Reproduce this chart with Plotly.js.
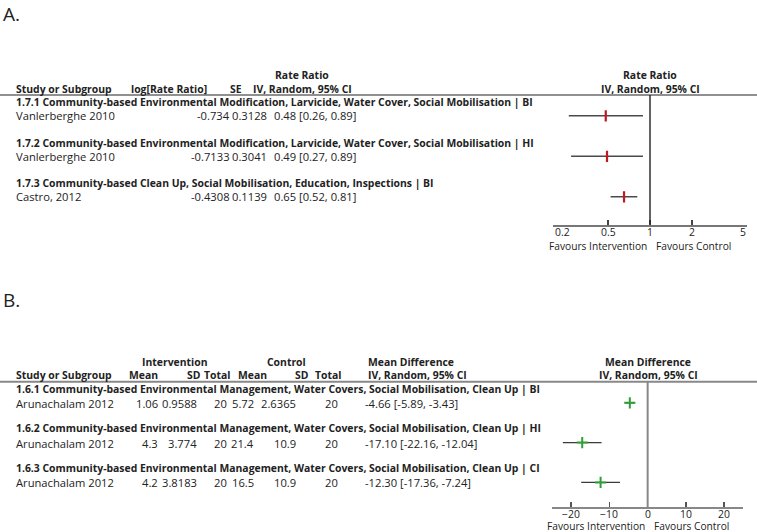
<!DOCTYPE html>
<html>
<head>
<meta charset="utf-8">
<script src="https://cdn.plot.ly/plotly-3.0.1.min.js"></script>
<style>html,body{margin:0;padding:0;background:#fff;}#chart{width:757px;height:532px;}</style>
</head>
<body>
<div id="chart"></div>
<script>
// ---------- Data: panel A (Rate Ratio) ----------
const subgroupsA = [
  "1.7.1 Community-based Environmental Modification, Larvicide, Water Cover, Social Mobilisation | BI",
  "1.7.2 Community-based Environmental Modification, Larvicide, Water Cover, Social Mobilisation | HI",
  "1.7.3 Community-based Clean Up, Social Mobilisation, Education, Inspections | BI"
];
const studiesA = ["Vanlerberghe 2010", "Vanlerberghe 2010", "Castro, 2012"];
const logRateRatio = [-0.734, -0.7133, -0.4308];
const seA = [0.3128, 0.3041, 0.1139];
const rateRatio = [0.48, 0.49, 0.65];
const rrLower = [0.26, 0.27, 0.52];
const rrUpper = [0.89, 0.89, 0.81];
const ticksA = [0.2, 0.5, 1, 2, 5];
const tickLabelsA = ["0.2", "0.5", "1", "2", "5"];

// ---------- Data: panel B (Mean Difference) ----------
const subgroupsB = [
  "1.6.1 Community-based Environmental Management, Water Covers, Social Mobilisation, Clean Up | BI",
  "1.6.2 Community-based Environmental Management, Water Covers, Social Mobilisation, Clean Up | HI",
  "1.6.3 Community-based Environmental Management, Water Covers, Social Mobilisation, Clean Up | CI"
];
const studiesB = ["Arunachalam 2012", "Arunachalam 2012", "Arunachalam 2012"];
const intMean = [1.06, 4.3, 4.2];
const intSD = [0.9588, 3.774, 3.8183];
const intTotal = [20, 20, 20];
const ctlMean = [5.72, 21.4, 16.5];
const ctlSD = [2.6365, 10.9, 10.9];
const ctlTotal = [20, 20, 20];
const meanDiff = [-4.66, -17.10, -12.30];
const mdLower = [-5.89, -22.16, -17.36];
const mdUpper = [-3.43, -12.04, -7.24];
const ticksB = [-20, -10, 0, 10, 20];
const tickLabelsB = ["\u221220", "\u221210", "0", "10", "20"];

// ---------- Layout helpers ----------
const W = 757, H = 532;
const FONT = "'Open Sans', 'DejaVu Sans', sans-serif";
const TXT = "#222";
const REG = 11.2, BOLD = 10.4, SMALL = 10.2, TICK = 10.4;
const px = x => x / W;
const py = y => 1 - y / H;
const ci = (m, l, u) => m.toFixed(2) + " [" + l.toFixed(2) + ", " + u.toFixed(2) + "]";

const annotations = [];
function pText(text, x, y, anchor, bold, size) {
  annotations.push({
    text: bold ? "<b>" + text + "</b>" : text,
    xref: "paper", yref: "paper", x: px(x), y: py(y),
    xanchor: anchor, yanchor: "middle", showarrow: false, borderpad: 0,
    font: {family: FONT, size: size || (bold ? BOLD : REG), color: TXT}
  });
}
function rowText(text, x, yref, row, anchor, bold, shift) {
  annotations.push({
    text: bold ? "<b>" + text + "</b>" : text,
    xref: "paper", yref: yref, x: px(x), y: row, yshift: shift || 0,
    xanchor: anchor, yanchor: "middle", showarrow: false, borderpad: 0,
    font: {family: FONT, size: bold ? BOLD : REG, color: TXT}
  });
}

// Titles
pText("A.", 2, 14, "left", false, 19);
pText("B.", 2, 300, "left", false, 19);

// Panel A headers
pText("Rate Ratio", 302, 75, "center", true);
pText("Study or Subgroup", 15, 88.8, "left", true);
pText("log[Rate Ratio]", 130, 88.8, "left", true);
pText("SE", 243, 88.8, "right", true);
pText("IV, Random, 95% CI", 252, 88.8, "left", true);
pText("Rate Ratio", 650, 75, "center", true);
pText("IV, Random, 95% CI", 650, 88.8, "center", true);

// Panel A rows
const colA = {name: 15, logrr: 231, se: 268, ci: 273};
subgroupsA.forEach((s, i) => {
  rowText(s, colA.name, "y", i, "left", true, 13.5);
  rowText(studiesA[i], colA.name, "y", i, "left", false, 0);
  rowText(String(logRateRatio[i]), colA.logrr, "y", i, "right", false, 0);
  rowText(String(seA[i]), colA.se, "y", i, "right", false, 0);
  rowText(ci(rateRatio[i], rrLower[i], rrUpper[i]), colA.ci, "y", i, "left", false, 0);
});

// Panel B headers
pText("Intervention", 175, 361.8, "center", true);
pText("Control", 286, 361.8, "center", true);
pText("Mean Difference", 367, 361.8, "left", true);
pText("Mean Difference", 648, 361.8, "center", true);
pText("Study or Subgroup", 15, 374.8, "left", true);
pText("Mean", 128, 374.8, "left", true);
pText("SD", 202, 374.8, "right", true);
pText("Total", 231, 374.8, "right", true);
pText("Mean", 237, 374.8, "left", true);
pText("SD", 310, 374.8, "right", true);
pText("Total", 342, 374.8, "right", true);
pText("IV, Random, 95% CI", 367, 374.8, "left", true);
pText("IV, Random, 95% CI", 648, 374.8, "center", true);

// Panel B rows
const colB = {name: 15, im: 159, isd: 198, it: 228, cm: 255, csd: 297, ct: 339, ci: 364};
subgroupsB.forEach((s, i) => {
  rowText(s, colB.name, "y2", i, "left", true, 14.2);
  rowText(studiesB[i], colB.name, "y2", i, "left", false, -0.5);
  rowText(String(intMean[i]), colB.im, "y2", i, "right", false, -0.5);
  rowText(String(intSD[i]), colB.isd, "y2", i, "right", false, -0.5);
  rowText(String(intTotal[i]), colB.it, "y2", i, "right", false, -0.5);
  rowText(String(ctlMean[i]), colB.cm, "y2", i, "right", false, -0.5);
  rowText(String(ctlSD[i]), colB.csd, "y2", i, "right", false, -0.5);
  rowText(String(ctlTotal[i]), colB.ct, "y2", i, "right", false, -0.5);
  rowText(ci(meanDiff[i], mdLower[i], mdUpper[i]), colB.ci, "y2", i, "left", false, -0.5);
});

// Tick labels drawn at the axes' own tick positions (log axis uses log10 units)
ticksA.forEach((v, i) => {
  const anchor = i === 0 ? "left" : (i === ticksA.length - 1 ? "right" : "center");
  annotations.push({text: tickLabelsA[i], xref: "x", yref: "paper", x: Math.log10(v), y: py(232),
    xanchor: anchor, yanchor: "middle", xshift: i === 0 ? 1 : 0, showarrow: false, borderpad: 0,
    font: {family: FONT, size: TICK, color: TXT}});
});
ticksB.forEach((v, i) => {
  annotations.push({text: tickLabelsB[i], xref: "x2", yref: "paper", x: v, y: py(514),
    xanchor: "center", yanchor: "middle", showarrow: false, borderpad: 0,
    font: {family: FONT, size: TICK, color: TXT}});
});

// Favours labels
[["x", Math.log10(1), 245.5], ["x2", 0, 526]].forEach(([xr, v, yy]) => {
  annotations.push({text: "Favours Intervention", xref: xr, yref: "paper", x: v, y: py(yy),
    xanchor: "right", yanchor: "middle", xshift: -2, showarrow: false, borderpad: 0,
    font: {family: FONT, size: SMALL, color: TXT}});
  annotations.push({text: "Favours Control", xref: xr, yref: "paper", x: v, y: py(yy),
    xanchor: "left", yanchor: "middle", xshift: 5, showarrow: false, borderpad: 0,
    font: {family: FONT, size: SMALL, color: TXT}});
});

// ---------- Traces ----------
function ciSegments(lo, hi) {
  const x = [], y = [];
  lo.forEach((l, i) => { x.push(l, hi[i], null); y.push(i, i, null); });
  return {x, y};
}
const segA = ciSegments(rrLower, rrUpper);
const segB = ciSegments(mdLower, mdUpper);
const rows = [0, 1, 2];

const traces = [
  {x: segA.x, y: segA.y, xaxis: "x", yaxis: "y", mode: "lines", type: "scatter",
   line: {color: "#4a4a4a", width: 1.4}, hoverinfo: "skip", showlegend: false},
  {x: rateRatio, y: rows, xaxis: "x", yaxis: "y", mode: "markers", type: "scatter",
   marker: {symbol: "line-ns", size: 8, line: {color: "#c3171f", width: 2.2}}, showlegend: false},
  {x: segB.x, y: segB.y, xaxis: "x2", yaxis: "y2", mode: "lines", type: "scatter",
   line: {color: "#3a3a3a", width: 1.4}, hoverinfo: "skip", showlegend: false},
  {x: meanDiff, y: rows, xaxis: "x2", yaxis: "y2", mode: "markers", type: "scatter",
   marker: {symbol: "cross-thin", size: 8, line: {color: "#2f9e35", width: 2}}, showlegend: false}
];

const axisCommon = {
  ticks: "inside", ticklen: 5, tickwidth: 1.5, showline: true, linewidth: 2,
  showgrid: false, zeroline: false, fixedrange: true, showticklabels: false
};

const layout = {
  width: W, height: H, margin: {l: 0, r: 0, t: 0, b: 0},
  paper_bgcolor: "#fff", plot_bgcolor: "rgba(0,0,0,0)", showlegend: false,
  xaxis: Object.assign({}, axisCommon, {
    type: "log", domain: [px(553), px(747)], range: [Math.log10(0.2), Math.log10(5)],
    anchor: "y", tickmode: "array", tickvals: ticksA,
    linecolor: "#777", tickcolor: "#444"
  }),
  yaxis: {domain: [py(224.5), py(95)], range: [2.684, -0.514], visible: false, fixedrange: true},
  xaxis2: Object.assign({}, axisCommon, {
    domain: [px(552), px(743.3)], range: [-25, 25], anchor: "y2",
    tickmode: "array", tickvals: ticksB, linecolor: "#888", tickcolor: "#555"
  }),
  yaxis2: {domain: [py(507), py(381.7)], range: [2.618, -0.53], visible: false, fixedrange: true},
  shapes: [
    {type: "line", xref: "paper", yref: "paper", x0: 0, x1: 1, y0: py(95), y1: py(95),
     line: {color: "#222", width: 1.2}},
    {type: "line", xref: "x", yref: "y domain", x0: 1, x1: 1, y0: 0, y1: 1,
     line: {color: "#222", width: 1.4}},
    {type: "line", xref: "paper", yref: "paper", x0: 0, x1: 1, y0: py(381.7), y1: py(381.7),
     line: {color: "#888", width: 2}},
    {type: "line", xref: "x2", yref: "y2 domain", x0: 0, x1: 0, y0: 0, y1: 1,
     line: {color: "#888", width: 2}}
  ],
  annotations: annotations
};

Plotly.newPlot("chart", traces, layout, {staticPlot: true, displayModeBar: false});
</script>
</body>
</html>
